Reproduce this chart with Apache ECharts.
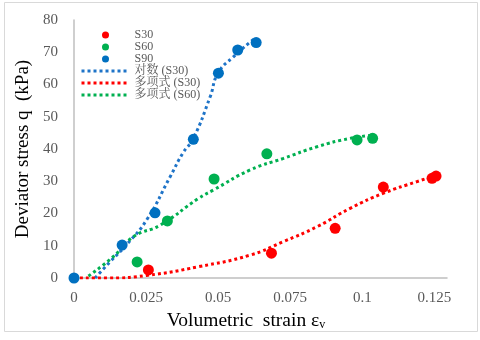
<!DOCTYPE html>
<html>
<head>
<meta charset="utf-8">
<title>Deviator stress vs volumetric strain</title>
<script src="https://cdn.jsdelivr.net/npm/echarts@6/dist/echarts.min.js"></script>
<style>
  html, body { margin: 0; padding: 0; background: #fff; }
  #chart { width: 480px; height: 340px; }
</style>
</head>
<body>
<div id="chart"></div>
<script>
'use strict';

// measured points
let s30Strain = [0.0258, 0.0685, 0.0906, 0.1073, 0.1242, 0.1256];
let s30Stress = [2.5, 7.7, 15.4, 28.2, 30.9, 31.6];
let s60Strain = [0.0219, 0.0324, 0.0486, 0.0669, 0.0982, 0.1036];
let s60Stress = [5.0, 17.7, 30.7, 38.5, 42.8, 43.3];
let s90Strain = [0, 0.0167, 0.0281, 0.0414, 0.0501, 0.0568, 0.0632];
let s90Stress = [0, 10.2, 20.2, 43.0, 63.5, 70.7, 73.0];

// trendlines
let logS30Strain = [0.0073, 0.0125, 0.0181, 0.0252, 0.0333, 0.0378, 0.0413, 0.0472, 0.0500, 0.0552, 0.0628];
let logS30Stress = [0, 5.0, 10.2, 18.0, 31.3, 38.8, 43.1, 56.1, 63.6, 68.5, 74.4];
let polyS30Strain = [0, 0.012, 0.0252, 0.0432, 0.0611, 0.0727, 0.0843, 0.0958, 0.1074, 0.119, 0.1259];
let polyS30Stress = [0, 0, 0.8, 3.5, 7.1, 11.3, 15.9, 21.6, 26.3, 29.9, 31.9];
let polyS60Strain = [0.005, 0.0136, 0.0206, 0.0299, 0.0432, 0.0484, 0.0611, 0.0727, 0.0843, 0.0958, 0.1039];
let polyS60Stress = [0.6, 6.6, 12.8, 16.4, 24.7, 27.3, 33.5, 37.1, 40.7, 43.3, 44.3];

let xTicks = [0, 0.025, 0.05, 0.075, 0.1, 0.125];

let pairs = function(xs, ys){
    return xs.map(function(x, i){ return [x, ys[i]]; });
};

let serif = 'Liberation Serif, "Noto Serif CJK SC", "Noto Sans CJK SC", serif';
let gray = '#595959';

let dotted = function(name, color, xs, ys){
    return {
        name: name,
        type: 'line',
        smooth: true,
        symbol: 'none',
        z: 1,
        lineStyle: { color: color, width: 3, type: [3, 3] },
        itemStyle: { color: color },
        data: pairs(xs, ys)
    };
};

let scatter = function(name, color, xs, ys){
    return {
        name: name,
        type: 'scatter',
        symbolSize: 11,
        z: 3,
        itemStyle: { color: color, opacity: 1 },
        data: pairs(xs, ys)
    };
};

// legend entry for a trendline: the dotted line only, no dot in the middle
let lineOnly = function(name){
    return { name: name, itemStyle: { color: 'rgba(0,0,0,0)', borderWidth: 0, opacity: 0 } };
};

let myChart = echarts.init(document.getElementById('chart'));

let option = {
    animation: false,
    backgroundColor: '#fff',
    graphic: [{
        type: 'rect',
        shape: { x: 4.5, y: 2.5, width: 473, height: 329 },
        style: { fill: 'none', stroke: '#d9d9d9', lineWidth: 1 },
        silent: true
    }],
    legend: {
        orient: 'vertical',
        left: 80,
        top: 29,
        padding: 0,
        itemWidth: 48,
        itemHeight: 7,
        itemGap: 0,
        lineStyle: { width: 3, type: [3, 3] },
        textStyle: { fontFamily: serif, fontSize: 12, lineHeight: 11.2, color: gray },
        data: [
            'S30', 'S60', 'S90',
            lineOnly('对数 (S30)'),
            lineOnly('多项式 (S30)'),
            lineOnly('多项式 (S60)')
        ]
    },
    grid: {
        left: 74,
        right: 33,
        top: 20,
        bottom: 62
    },
    xAxis: {
        type: 'value',
        min: 0,
        max: 0.1294,
        interval: 0.025,
        splitLine: { show: false },
        axisTick: { show: false },
        axisLine: { lineStyle: { color: '#bfbfbf', width: 1.5 } },
        axisLabel: {
            fontFamily: serif, fontSize: 15, color: gray, margin: 13,
            showMaxLabel: false,
            formatter: function(v){
                let t = xTicks.find(function(k){ return Math.abs(k - v) < 1e-9; });
                return t === undefined ? '' : String(t);
            }
        },
        name: '{a|Volumetric  strain ε}{s|v}',
        nameLocation: 'middle',
        nameGap: 28,
        nameTextStyle: {
            padding: [0, 29, 0, 0],
            rich: {
                a: { fontFamily: serif, fontSize: 19.5, color: '#000', lineHeight: 21 },
                s: { fontFamily: serif, fontSize: 12, color: '#000', lineHeight: 21, verticalAlign: 'bottom', padding: [6, 0, 0, 0] }
            }
        }
    },
    yAxis: {
        type: 'value',
        min: 0,
        max: 80,
        interval: 10,
        splitLine: { show: false },
        axisTick: { show: false },
        axisLine: { show: true, lineStyle: { color: '#bfbfbf', width: 1.5 } },
        axisLabel: { fontFamily: serif, fontSize: 15, color: gray, margin: 16 },
        name: 'Deviator stress q  (kPa)',
        nameLocation: 'middle',
        nameRotate: 90,
        nameGap: 41,
        nameTextStyle: { fontFamily: serif, fontSize: 19, color: '#000' }
    },
    series: [
        scatter('S30', '#ff0000', s30Strain, s30Stress),
        scatter('S60', '#00b050', s60Strain, s60Stress),
        scatter('S90', '#0070c0', s90Strain, s90Stress),
        dotted('对数 (S30)', '#1f74c8', logS30Strain, logS30Stress),
        dotted('多项式 (S30)', '#ff0000', polyS30Strain, polyS30Stress),
        dotted('多项式 (S60)', '#00b050', polyS60Strain, polyS60Stress)
    ]
};

myChart.setOption(option);
</script>
</body>
</html>
